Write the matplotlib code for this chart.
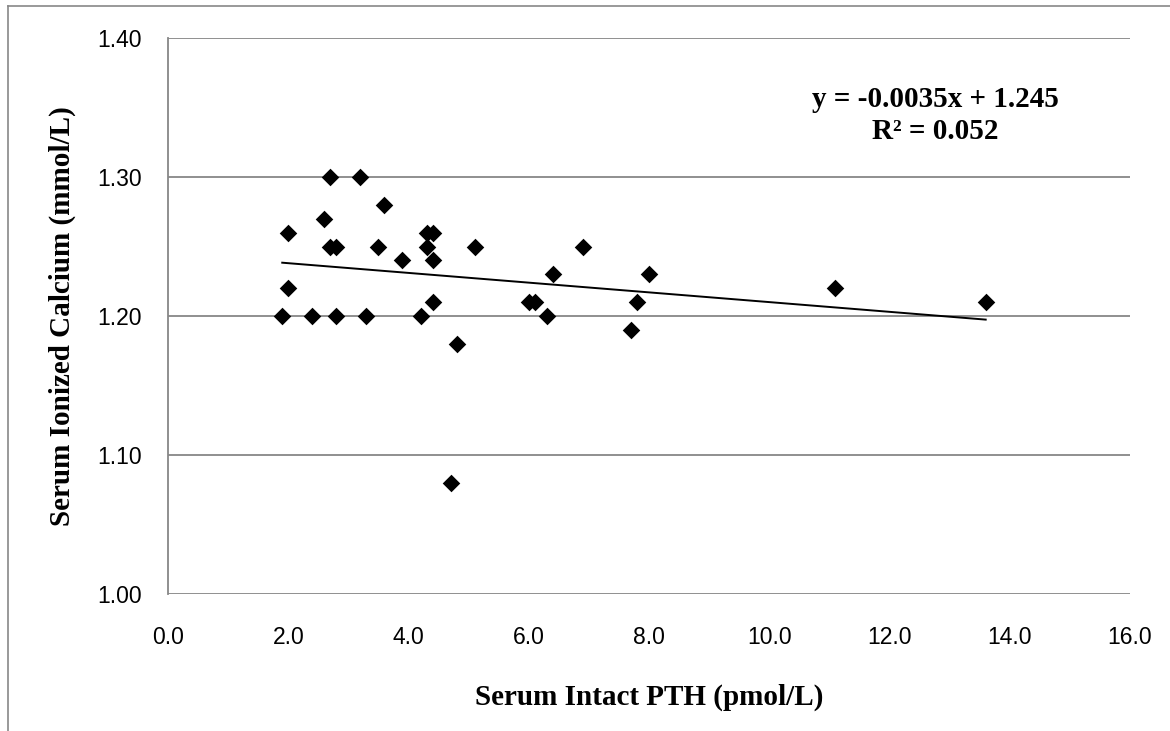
import numpy as np
import matplotlib
matplotlib.use("Agg")
import matplotlib.pyplot as plt
from matplotlib.lines import Line2D

# Serum intact PTH (pmol/L) vs serum ionized calcium (mmol/L)
pth = [1.9, 2.0, 2.0, 2.4, 2.6, 2.7, 2.7, 2.8, 2.8, 3.2, 3.3, 3.5, 3.6, 3.9,
       4.2, 4.3, 4.3, 4.4, 4.4, 4.4, 4.7, 4.8, 5.1, 6.0, 6.1, 6.3, 6.4, 6.9,
       7.7, 7.8, 8.0, 11.1, 13.6]
calcio = [1.20, 1.26, 1.22, 1.20, 1.27, 1.30, 1.25, 1.25, 1.20, 1.30, 1.20, 1.25, 1.28, 1.24,
          1.20, 1.26, 1.25, 1.26, 1.24, 1.21, 1.08, 1.18, 1.25, 1.21, 1.21, 1.20, 1.23, 1.25,
          1.19, 1.21, 1.23, 1.22, 1.21]

# tendencia lineal (ecuacion mostrada en el grafico)
PENDIENTE = -0.0035
INTERCEPTO = 1.245
ecuacion = "y = -0.0035x + 1.245"
r2_texto = "R² = 0.052"

x_ticks = np.arange(0, 16.1, 2.0)
y_ticks = [1.00, 1.10, 1.20, 1.30, 1.40]

GRIS = "#878787"
fuente_ticks = "Liberation Sans"
fuente_titulos = "Liberation Serif"

fig = plt.figure(figsize=(11.7, 7.31), dpi=100)
ax = fig.add_axes([168 / 1170, 1 - 594 / 731, (1130 - 168) / 1170, (594 - 38) / 731])

# lineas de cuadricula
for yv in y_ticks:
    ax.axhline(yv, color=GRIS, lw=1.3, zorder=1)

ax.scatter(pth, calcio, marker="D", s=80, color="black", linewidths=0, zorder=3)

x_fit = np.array([min(pth), max(pth)])
ax.plot(x_fit, PENDIENTE * x_fit + INTERCEPTO, color="black", lw=1.4, zorder=2)

ax.set_xlim(0, 16)
ax.set_ylim(1.00, 1.40)
ax.set_xticks(x_ticks)
ax.set_xticklabels([f"{v:.1f}" for v in x_ticks], fontfamily=fuente_ticks, fontsize=16.5)
ax.set_yticks(y_ticks)
ax.set_yticklabels([f"{v:.2f}" for v in y_ticks], fontfamily=fuente_ticks, fontsize=16.5)
ax.tick_params(axis="x", length=0, pad=23)
ax.tick_params(axis="y", length=0, pad=19)

for lado in ["top", "right", "bottom"]:
    ax.spines[lado].set_visible(False)
ax.spines["left"].set_color(GRIS)
ax.spines["left"].set_linewidth(1.3)

ax.set_xlabel("Serum Intact PTH (pmol/L)", fontfamily=fuente_titulos, fontweight="bold",
              fontsize=21, labelpad=25)
ax.set_ylabel("Serum Ionized Calcium (mmol/L)", fontfamily=fuente_titulos, fontweight="bold",
              fontsize=21, labelpad=15)

ax.text(0.798, 0.8606, ecuacion + "\n" + r2_texto, transform=ax.transAxes, ha="center",
        va="center", fontfamily=fuente_titulos, fontweight="bold", fontsize=21,
        linespacing=1.2)

# marco exterior del grafico
fig.add_artist(Line2D([8 / 1170, 8 / 1170], [0, 1 - 6 / 731], color=GRIS, lw=1.2))
fig.add_artist(Line2D([8 / 1170, 1], [1 - 6 / 731, 1 - 6 / 731], color=GRIS, lw=1.2))

fig.savefig("out.png", dpi=100)
